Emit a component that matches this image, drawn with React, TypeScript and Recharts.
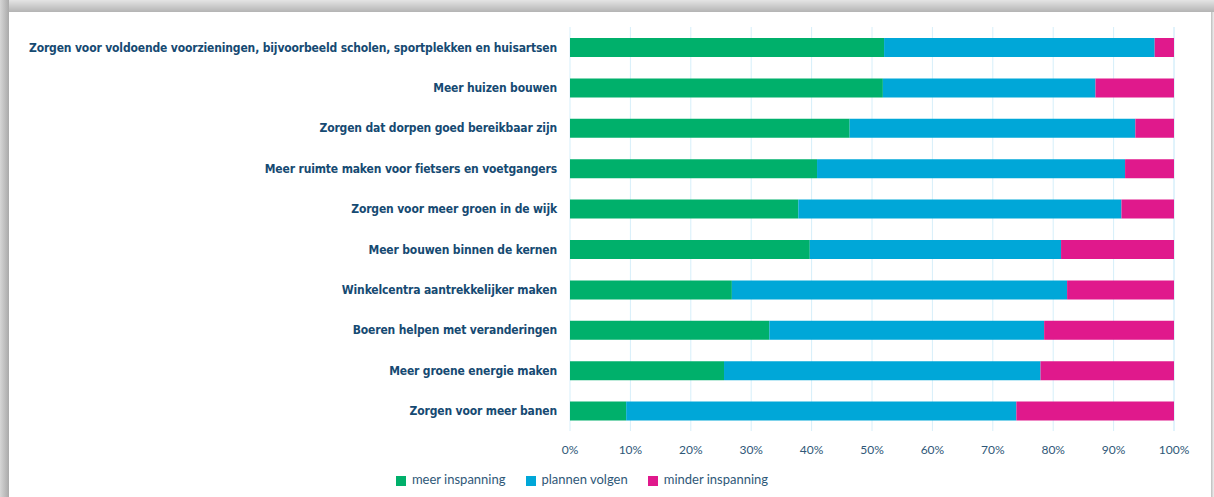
import React from "react";
import {
  BarChart,
  Bar,
  CartesianGrid,
  XAxis,
  YAxis,
  Legend,
} from "recharts";

const categories = [
  "Zorgen voor voldoende voorzieningen, bijvoorbeeld scholen, sportplekken en huisartsen",
  "Meer huizen bouwen",
  "Zorgen dat dorpen goed bereikbaar zijn",
  "Meer ruimte maken voor fietsers en voetgangers",
  "Zorgen voor meer groen in de wijk",
  "Meer bouwen binnen de kernen",
  "Winkelcentra aantrekkelijker maken",
  "Boeren helpen met veranderingen",
  "Meer groene energie maken",
  "Zorgen voor meer banen",
];
const meerInspanning = [52, 51.8, 46.3, 40.9, 37.8, 39.7, 26.8, 33, 25.5, 9.3];
const plannenVolgen = [44.8, 35.2, 47.3, 51, 53.5, 41.6, 55.5, 45.5, 52.4, 64.6];
const minderInspanning = [3.2, 13, 6.4, 8.1, 8.7, 18.7, 17.7, 21.5, 22.1, 26.1];
const seriesNames = ["meer inspanning", "plannen volgen", "minder inspanning"];
const xTicks = [0, 10, 20, 30, 40, 50, 60, 70, 80, 90, 100];

const labelFont = "'Liberation Sans Narrow', 'DejaVu Sans Condensed', sans-serif";
const textFont = "Lato, 'Open Sans', sans-serif";

// plain svg text so long labels stay on one line
function CategoryTick(props: any) {
  const { x, y, payload } = props;
  return (
    <text
      x={x}
      y={y}
      dy="0.36em"
      textAnchor="end"
      fill="#164a72"
      fontSize={12}
      fontWeight="bold"
      letterSpacing={-0.15}
      fontFamily={labelFont}
    >
      {payload.value}
    </text>
  );
}

export default function App() {
  const data = categories.map((name, i) => ({
    name,
    meer: meerInspanning[i],
    plannen: plannenVolgen[i],
    minder: minderInspanning[i],
  }));

  return (
    <div
      style={{
        position: "absolute",
        left: 0,
        top: 0,
        width: 1214,
        height: 497,
        background: "#ffffff",
        overflow: "hidden",
      }}
    >
      {/* grey frame / shadow */}
      <div
        style={{
          position: "absolute",
          left: 0,
          top: 0,
          width: 1214,
          height: 12,
          background: "linear-gradient(#e4e4e4, #b4b4b4)",
        }}
      />
      <div
        style={{
          position: "absolute",
          left: 0,
          top: 0,
          width: 9,
          height: 497,
          background: "linear-gradient(90deg, #d6d6d6, #a9a9a9)",
        }}
      />
      <div
        style={{
          position: "absolute",
          left: 1211,
          top: 12,
          width: 3,
          height: 485,
          background: "linear-gradient(90deg, #bdbdbd, #f0f0f0)",
        }}
      />
      <div style={{ position: "absolute", left: 9, top: 12 }}>
        <BarChart
          width={1202}
          height={485}
          data={data}
          layout="vertical"
          barSize={19}
          margin={{ top: 15, right: 37, bottom: 20, left: 0 }}
        >
          <CartesianGrid stroke="#d6effa" horizontal={false} />
          <XAxis
            type="number"
            domain={[0, 100]}
            ticks={xTicks}
            tickFormatter={(v) => `${v}%`}
            axisLine={false}
            tickLine={false}
            tickMargin={8}
            tick={{ fill: "#2f5878", fontSize: 12, fontFamily: textFont }}
          />
          <YAxis
            type="category"
            dataKey="name"
            width={561}
            axisLine={false}
            tickLine={false}
            tickMargin={7}
            interval={0}
            tick={<CategoryTick />}
          />
          <Legend
            iconType="square"
            iconSize={10}
            itemSorter={(item: any) => seriesNames.indexOf(item.value)}
            wrapperStyle={{
              fontFamily: textFont,
              fontSize: 13,
              color: "#2f5878",
              bottom: 10,
              left: 383,
              width: 400,
            }}
            formatter={(value) => (
              <span style={{ color: "#2f5878", marginLeft: 2, marginRight: 10 }}>
                {value}
              </span>
            )}
          />
          <Bar
            dataKey="meer"
            name={seriesNames[0]}
            stackId="a"
            fill="#00b06b"
            isAnimationActive={false}
          />
          <Bar
            dataKey="plannen"
            name={seriesNames[1]}
            stackId="a"
            fill="#00a7d8"
            isAnimationActive={false}
          />
          <Bar
            dataKey="minder"
            name={seriesNames[2]}
            stackId="a"
            fill="#e0198c"
            isAnimationActive={false}
          />
        </BarChart>
      </div>
    </div>
  );
}
